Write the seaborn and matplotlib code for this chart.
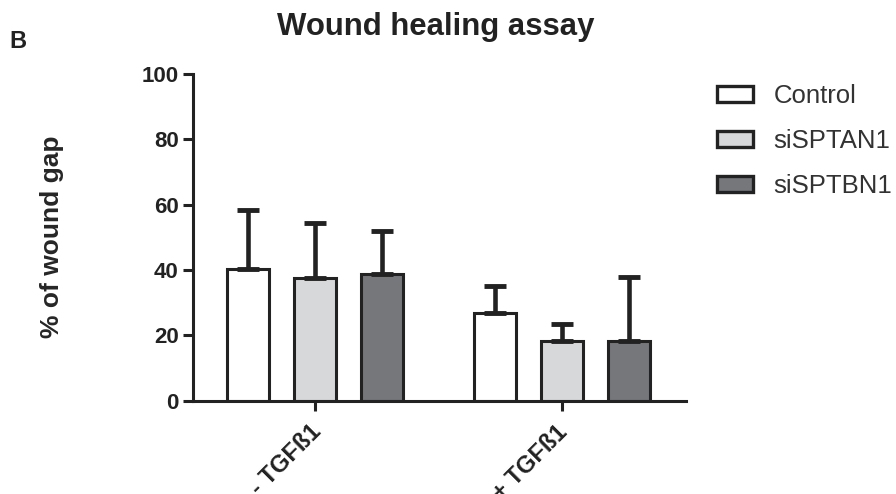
import matplotlib
matplotlib.use("Agg")
import matplotlib.pyplot as plt
import matplotlib.transforms as mtransforms
import seaborn as sns
import pandas as pd
import numpy as np

conditions = ["- TGFß1", "+ TGFß1"]
groups = ["Control", "siSPTAN1", "siSPTBN1"]
control_mean = [40.2, 26.7]
sptan1_mean = [37.6, 18.2]
sptbn1_mean = [38.7, 18.2]
control_err = [18.1, 8.5]
sptan1_err = [16.8, 5.2]
sptbn1_err = [13.3, 19.7]
colors = ["#ffffff", "#d7d8da", "#76777b"]

rows = []
for g, means, errs in zip(groups, [control_mean, sptan1_mean, sptbn1_mean],
                          [control_err, sptan1_err, sptbn1_err]):
    for c, m, e in zip(conditions, means, errs):
        rows.append({"condition": c, "group": g, "value": m, "err": e})
df = pd.DataFrame(rows)

sns.set_theme(style="ticks")
plt.rcParams["font.family"] = ["Liberation Sans", "DejaVu Sans"]
plt.rcParams["text.color"] = "#222222"

ink = "#222222"
fig = plt.figure(figsize=(8.96, 4.94), dpi=100)
ax = fig.add_axes([192.7/896, 1-400.7/494, (686-192.7)/896, (400.7-73.7)/494])

sns.barplot(data=df, x="condition", y="value", hue="group", order=conditions,
            hue_order=groups, palette=colors, width=0.813, gap=0.37,
            errorbar=None, edgecolor=ink, linewidth=2.2, ax=ax,
            saturation=1)

# upper-only error bars
for gi, g in enumerate(groups):
    cont = ax.containers[gi]
    sub = df[df.group == g].set_index("condition").loc[conditions]
    xs = [p.get_x() + p.get_width()/2 for p in cont.patches]
    ax.errorbar(xs, sub["value"].values, yerr=[np.zeros(len(xs)), sub["err"].values],
                fmt="none", ecolor=ink, elinewidth=3.3, capsize=7.8, capthick=3.5,
                zorder=1)

ax.set_ylim(0, 100)
ax.set_xlim(-0.495, 1.502)
ax.set_yticks([0, 20, 40, 60, 80, 100])
ax.set_xlabel("")
ax.set_ylabel("% of wound gap", fontsize=19, fontweight="bold")
ax.yaxis.set_label_coords((64 - 192.7) / (686 - 192.7), 0.5)
sns.despine(ax=ax)
for s in ["left", "bottom"]:
    ax.spines[s].set_linewidth(2.2)
    ax.spines[s].set_color(ink)
ax.tick_params(axis="both", width=2.2, length=7, color=ink,
               labelsize=16, labelcolor=ink, pad=3)
for lab in ax.get_yticklabels():
    lab.set_fontweight("bold")
ax.set_xticks(range(len(conditions)))
ax.set_xticklabels(conditions, rotation=45, ha="right", rotation_mode="anchor",
                   fontweight="bold", fontsize=17)
ax.tick_params(axis="x", pad=8)
shift = mtransforms.ScaledTranslation(-6/100, 1/100, fig.dpi_scale_trans)
for lab in ax.get_xticklabels():
    lab.set_transform(lab.get_transform() + shift)

handles, labels = ax.get_legend_handles_labels()
for h in handles:
    h.set_edgecolor(ink)
    h.set_linewidth(2.4)
leg = ax.legend(handles, labels, loc="upper left", bbox_to_anchor=(717/896, 1-84/494),
                bbox_transform=fig.transFigure, frameon=False, fontsize=18.5,
                handlelength=1.4, handleheight=0.62, labelspacing=0.82,
                handletextpad=0.8, borderpad=0, borderaxespad=0)
for t in leg.get_texts():
    t.set_color("#333333")

fig.text(436/896, 1-27/494, "Wound healing assay", fontsize=22.4, fontweight="bold",
         ha="center", va="center")
fig.text(9/896, 1-41/494, "B", fontsize=17, fontweight="bold", ha="left", va="center")

fig.savefig("out.png", dpi=100)
